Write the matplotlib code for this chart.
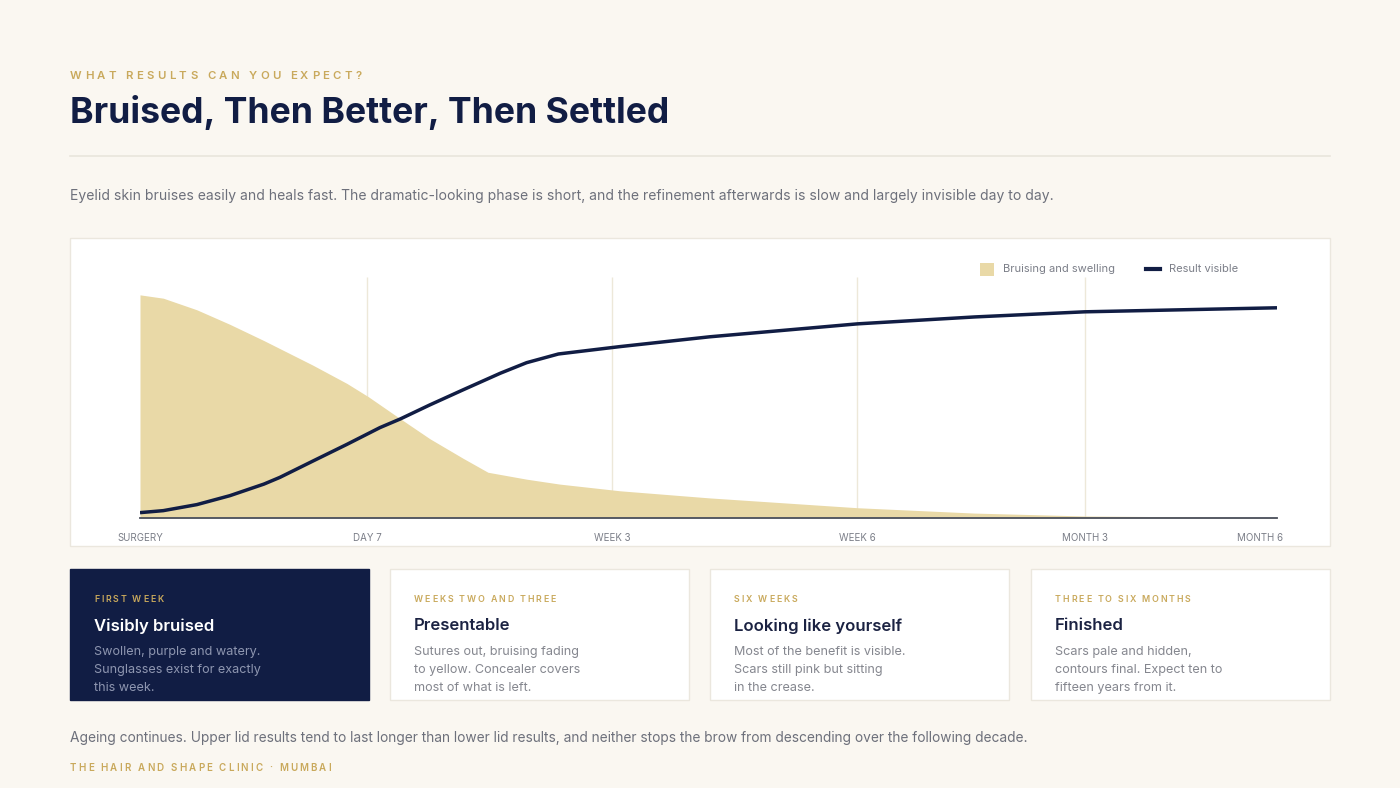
import numpy as np
import matplotlib.pyplot as plt
import matplotlib.transforms as mtransforms
from matplotlib.patches import Rectangle
from matplotlib.font_manager import FontProperties

W, H = 1400, 788
FONT = ['Inter', 'DejaVu Sans']

BG = '#faf7f1'
NAVY = '#111d44'
GOLD = '#c9a95c'
SAND = '#e9d9a7'
GREY = '#6d707b'

# timeline positions in percent (surgery = 0, month 6 = 100)
tick_pos = [0, 20, 41.5, 63.1, 83.1, 100]
tick_labels = ['SURGERY', 'DAY 7', 'WEEK 3', 'WEEK 6', 'MONTH 3', 'MONTH 6']

bruise_x = [0, 2.05, 5.0, 7.9, 10.9, 15.2, 18.2, 20.1, 22.6, 25.5, 28.4, 30.6,
            34.0, 36.9, 42.2, 50.1, 63.1, 73.4, 83.1, 100]
bruise_y = [100, 98.5, 93.3, 86.8, 79.5, 68.5, 60.3, 54.3, 45.5, 35.5, 26.8, 20.5,
            17.4, 15.2, 12.2, 9, 4.6, 2.2, 0.9, 0.2]

result_x = [0, 2.05, 5.0, 7.9, 10.9, 12.3, 15.2, 18.2, 21.1, 22.9, 25.5, 28.4,
            31.7, 34.0, 36.8, 42.2, 50.1, 63.1, 73.4, 83.1, 100]
result_y = [2.4, 3.3, 6.0, 10.0, 15.2, 18.2, 25.5, 33.0, 40.5, 44.4, 50.7, 57.4,
            64.9, 69.6, 73.5, 76.8, 81.2, 87, 90.1, 92.4, 94.2]

card_tags = ['FIRST WEEK', 'WEEKS TWO AND THREE', 'SIX WEEKS', 'THREE TO SIX MONTHS']
card_heads = ['Visibly bruised', 'Presentable', 'Looking like yourself', 'Finished']
card_bodies = [
    ['Swollen, purple and watery.', 'Sunglasses exist for exactly', 'this week.'],
    ['Sutures out, bruising fading', 'to yellow. Concealer covers', 'most of what is left.'],
    ['Most of the benefit is visible.', 'Scars still pink but sitting', 'in the crease.'],
    ['Scars pale and hidden,', 'contours final. Expect ten to', 'fifteen years from it.'],
]


def fx(px):
    return px / W


def fy(py):
    return 1 - py / H


fig = plt.figure(figsize=(W / 100, H / 100), dpi=100, facecolor=BG)
rend = fig.canvas.get_renderer()


def spaced(x, y, s, size, color, track, weight='bold'):
    # matplotlib has no letter-spacing, so place the glyphs one by one
    fp = FontProperties(family=FONT, size=size, weight=weight)
    for ch in s:
        fig.text(fx(x), fy(y), ch, fontproperties=fp, color=color, va='center', ha='left')
        w, h, d = rend.get_text_width_height_descent(ch, fp, ismath=False)
        x += w + track


def txt(x, y, s, size, color, weight='normal'):
    fig.text(fx(x), fy(y), s, family=FONT, size=size, color=color, weight=weight,
             va='center', ha='left')


# header
spaced(70, 76, 'WHAT RESULTS CAN YOU EXPECT?', 8.2, GOLD, 3.35, weight='semibold')
txt(70, 112, 'Bruised, Then Better, Then Settled', 25.6, NAVY, weight='bold')
fig.add_artist(plt.Line2D([fx(70), fx(1330)], [fy(156), fy(156)], color='#e9e5dc', lw=1.2))
txt(70, 196, 'Eyelid skin bruises easily and heals fast. The dramatic-looking phase is short, '
    'and the refinement afterwards is slow and largely invisible day to day.', 10.05, GREY)

# chart panel
fig.add_artist(Rectangle((fx(70), fy(546)), 1260 / W, 308 / H, transform=fig.transFigure,
                         fc='white', ec='#ebe7de', lw=1, zorder=0))

ax = fig.add_axes([fx(140), fy(518), 1137 / W, 241 / H])
ax.set_facecolor('none')
ax.set_xlim(0, 100)
ax.set_ylim(0, 108)
ax.vlines(tick_pos[1:-1], 0, 108, color='#ede8d9', lw=1, zorder=1)
ax.fill_between(bruise_x, bruise_y, 0, color=SAND, lw=0, zorder=2)
ax.plot(result_x, result_y, color=NAVY, lw=2.5, zorder=4,
        solid_capstyle='butt', solid_joinstyle='round')
for s in ['top', 'right', 'left']:
    ax.spines[s].set_visible(False)
ax.spines['bottom'].set_color('#4a4f5c')
ax.spines['bottom'].set_linewidth(1.3)
ax.spines['bottom'].set_zorder(5)
ax.set_yticks([])
ax.set_xticks(tick_pos, tick_labels)
ax.tick_params(axis='x', length=0, pad=10.5, labelsize=7, labelcolor='#7b7e88')
for lab in ax.get_xticklabels():
    lab.set_family(FONT)
last = ax.get_xticklabels()[-1]
last.set_ha('right')
last.set_transform(last.get_transform() +
                   mtransforms.ScaledTranslation(6 / 100, 0, fig.dpi_scale_trans))

# legend
fig.add_artist(Rectangle((fx(980), fy(276)), 14 / W, 13 / H, transform=fig.transFigure,
                         fc=SAND, ec='none'))
txt(1003, 269, 'Bruising and swelling', 8, '#7b7e88')
fig.add_artist(plt.Line2D([fx(1146), fx(1160)], [fy(269), fy(269)], color=NAVY, lw=3))
txt(1169, 269, 'Result visible', 8, '#7b7e88')

# cards
card_x = [70, 390, 710, 1031]
for i, cx in enumerate(card_x):
    dark = i == 0
    fig.add_artist(Rectangle((fx(cx), fy(700)), 299 / W, 131 / H, transform=fig.transFigure,
                             fc=NAVY if dark else 'white', ec=NAVY if dark else '#ebe7de', lw=1))
    spaced(cx + 24, 599, card_tags[i], 6.4, GOLD, 1.85, weight='semibold')
    txt(cx + 24, 626, card_heads[i], 12, 'white' if dark else '#1b2242', weight='semibold')
    for j, line in enumerate(card_bodies[i]):
        txt(cx + 24, 652 + 18 * j, line, 9.1, '#8e96b0' if dark else '#85878f')

# footer
txt(70, 738, 'Ageing continues. Upper lid results tend to last longer than lower lid results, '
    'and neither stops the brow from descending over the following decade.', 9.9, GREY)
spaced(70, 768, 'THE HAIR AND SHAPE CLINIC \u00b7 MUMBAI', 7, GOLD, 2.15, weight='semibold')

fig.savefig('out.png', dpi=100, facecolor=BG)
